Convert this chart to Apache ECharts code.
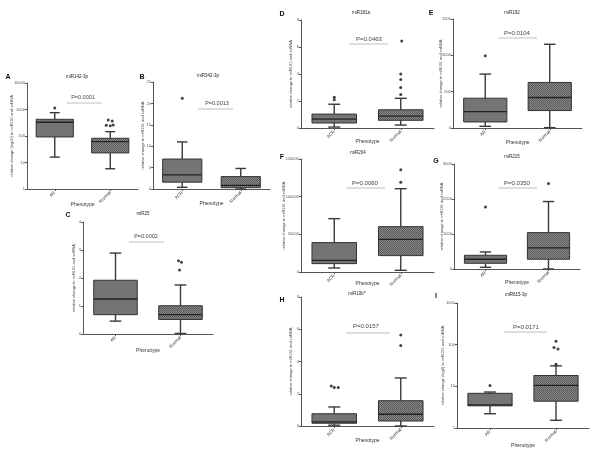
<!DOCTYPE html>
<html>
<head>
<meta charset="utf-8">
<script src="https://cdn.jsdelivr.net/npm/echarts@6/dist/echarts.min.js"></script>
<style>
  html, body { margin: 0; padding: 0; background: #fff; }
  #chart { width: 601px; height: 458px; }
</style>
</head>
<body>
<div id="chart"></div>
<script>
// ---- data ----
const catsAR = ['AR', 'Normal'];
const catsACR = ['ACR', 'Normal'];

// box rows: [category, min, q1, median, q3, max]
const boxA = [[0, 16, 92, 330, 427, 760], [1, 5.8, 23, 61, 82, 146]];
const outA = [[0, 1140], [1, 400], [1, 370], [1, 252], [1, 245], [1, 262]];
const boxB = [[0, 0.4, 1.6, 3.3, 7.0, 11], [1, 0, 0.3, 0.86, 2.9, 4.8]];
const outB = [[0, 21.2]];
const boxC = [[0, 0.46, 0.69, 1.25, 1.92, 2.89], [1, 0.02, 0.52, 0.69, 1.01, 1.75]];
const outC = [[1, 2.62], [1, 2.56], [1, 2.29]];
const boxD = [[0, 0.07, 0.37, 0.66, 1.03, 1.76], [1, 0.22, 0.57, 0.88, 1.35, 2.2]];
const outD = [[0, 2.28], [0, 2.09], [1, 2.48], [1, 3.0], [1, 3.6], [1, 4.0], [1, 6.45]];
const boxE = [[0, 23, 83, 226, 410, 742], [1, 5, 240, 420, 627, 1152]];
const outE = [[0, 995]];
const boxF = [[0, 5300, 11100, 15500, 39000, 70800], [1, 2250, 21750, 43400, 60200, 110600]];
const outF = [[1, 119000], [1, 135800]];
const boxG = [[0, 49, 163, 278, 392, 487], [1, 0, 278, 602, 1040, 1928]];
const outG = [[0, 1768], [1, 2444]];
const boxH = [[0, 0.05, 0.17, 0.25, 0.76, 1.18], [1, 0, 0.31, 0.73, 1.57, 2.98]];
const outH = [[0, 2.48], [0, 2.38], [0, 2.38], [1, 5.65], [1, 4.99]];
const boxI = [[0, 2.2, 3.4, 3.6, 6.8, 7.3], [1, 1.53, 4.4, 10.5, 18.2, 31]];
const outI = [[0, 10.5], [1, 120], [1, 85], [1, 79], [1, 34]];

const pValues = ['P=0.0001', 'P=0.0013', 'P=0.0002', 'P=0.0463', 'P=0.0104',
                 'P=0.0060', 'P=0.0350', 'P=0.0157', 'P=0.0171'];
const titles = ['miR142-3p', 'miR342-3p', 'miR25', 'miR181a', 'miR192',
                'miR204', 'miR215', 'miR10b*', 'miR615-3p'];
const letters = ['A', 'B', 'C', 'D', 'E', 'F', 'G', 'H', 'I'];
const yNamePlain = 'relative change to miR191 and snRNA';

// ---- layout (pixels) ----
// grid [left, top, width, height], letter [x,y], title [x,y], p text [x,y], p line [x1,x2,y]
const panels = [
  { cats: catsAR,  box: boxA, out: outA, jit: [0, -2, 2, -4, 0, 3], y: { type: 'log', min: 1, max: 10000 },
    yName: 'relative change (log10) to miR191 and snRNA', grid: [27, 83, 111, 106], letter: [8, 77], title: [77, 77],
    p: [83, 97], pl: [67, 102, 103], yGap: 13, xGap: 13 },
  { cats: catsACR, box: boxB, out: outB, jit: [0], y: { min: 0, max: 25, interval: 5 },
    yName: yNamePlain, grid: [153, 82, 117, 107], letter: [142, 77], title: [208, 76],
    p: [217, 103], pl: [198, 233, 109], yGap: 8, xGap: 12 },
  { cats: catsAR,  box: boxC, out: outC, jit: [-2, 1, -1], y: { min: 0, max: 4, interval: 1 },
    yName: yNamePlain, grid: [83, 222, 130, 112], letter: [68, 215], title: [143, 214],
    p: [146, 236], pl: [129, 164, 242], yGap: 7, xGap: 14 },
  { cats: catsACR, box: boxD, out: outD, jit: [0, 0, 0, 0, 0, 0, 1], y: { min: 0, max: 8, interval: 2 },
    yName: yNamePlain, grid: [301, 20, 133, 108], letter: [282, 14], title: [361, 13],
    p: [369, 39], pl: [349, 388, 44], yGap: 8, xGap: 11 },
  { cats: catsAR,  box: boxE, out: outE, jit: [0], y: { min: 0, max: 1500, interval: 500 },
    yName: yNamePlain, grid: [453, 19, 129, 109], letter: [431, 13], title: [512, 13],
    p: [517, 33], pl: [498, 537, 38], yGap: 10, xGap: 12 },
  { cats: catsACR, box: boxF, out: outF, jit: [0, 0], y: { min: 0, max: 150000, interval: 50000 },
    yName: yNamePlain, grid: [301, 159, 133, 113], letter: [282, 157], title: [358, 153],
    p: [365, 183], pl: [346, 385, 188], yGap: 15, xGap: 9 },
  { cats: catsAR,  box: boxG, out: outG, jit: [0, 0], y: { min: 0, max: 3000, interval: 1000 },
    yName: yNamePlain, grid: [454, 164, 126, 105], letter: [436, 161], title: [512, 157],
    p: [517, 183], pl: [498, 537, 188], yGap: 10, xGap: 11 },
  { cats: catsACR, box: boxH, out: outH, jit: [-3, 0, 4, 0, 0], y: { min: 0, max: 8, interval: 2 },
    yName: yNamePlain, grid: [301, 297, 133, 129], letter: [282, 300], title: [357, 294],
    p: [366, 326], pl: [346, 390, 333], yGap: 8, xGap: 12 },
  { cats: catsAR,  box: boxI, out: outI, jit: [0, 0, -2, 2, 0], y: { type: 'log', min: 1, max: 1000 },
    yName: 'relative change (log2) to miR191 and snRNA', grid: [457, 303, 132, 125], letter: [436, 296], title: [516, 295],
    p: [526, 327], pl: [504, 547, 332], yGap: 12, xGap: 15 }
];

const FONT = 'Liberation Sans, Arial, sans-serif';
const AXIS = '#555';

// dotted fill for the Normal boxes
const tile = document.createElement('canvas');
tile.width = 2; tile.height = 2;
const tc = tile.getContext('2d');
tc.fillStyle = '#8a8a8a'; tc.fillRect(0, 0, 2, 2);
tc.fillStyle = '#585858'; tc.fillRect(0, 0, 1, 1); tc.fillRect(1, 1, 1, 1);
const hatch = { image: tile, repeat: 'repeat' };

function renderBox(params, api) {
  const c = api.value(0);
  const p = [1, 2, 3, 4, 5].map(function (i) { return api.coord([c, api.value(i)]); });
  const band = api.size([1, 0])[0];
  const half = band * 0.335, cap = band * 0.09;
  const x = p[0][0];
  const wl = { stroke: '#3a3a3a', lineWidth: 1.4 };
  return {
    type: 'group',
    children: [
      { type: 'line', shape: { x1: x, y1: p[0][1], x2: x, y2: p[1][1] }, style: wl },
      { type: 'line', shape: { x1: x, y1: p[3][1], x2: x, y2: p[4][1] }, style: wl },
      { type: 'line', shape: { x1: x - cap, y1: p[0][1], x2: x + cap, y2: p[0][1] }, style: wl },
      { type: 'line', shape: { x1: x - cap, y1: p[4][1], x2: x + cap, y2: p[4][1] }, style: wl },
      { type: 'rect', shape: { x: x - half, y: p[3][1], width: half * 2, height: p[1][1] - p[3][1] },
        style: { fill: c === 1 ? hatch : '#747474', stroke: '#333', lineWidth: 1 } },
      { type: 'line', shape: { x1: x - half, y1: p[2][1], x2: x + half, y2: p[2][1] },
        style: { stroke: '#222', lineWidth: 1.3 } }
    ]
  };
}

const grids = [], xAxes = [], yAxes = [], series = [], graphics = [];

panels.forEach(function (pn, i) {
  grids.push({ left: pn.grid[0], top: pn.grid[1], width: pn.grid[2], height: pn.grid[3] });
  xAxes.push({
    gridIndex: i, type: 'category', data: pn.cats,
    name: 'Phenotype', nameLocation: 'middle', nameGap: pn.xGap, nameMoveOverlap: false,
    nameTextStyle: { fontSize: 5, color: '#333', fontFamily: FONT },
    axisLine: { lineStyle: { color: AXIS, width: 1 } },
    axisTick: { show: true, alignWithLabel: true, length: 2, lineStyle: { color: AXIS } },
    axisLabel: { rotate: 45, fontSize: 4.5, color: '#333', margin: 3, fontFamily: FONT },
    splitLine: { show: false }
  });
  const y = {
    gridIndex: i, type: pn.y.type || 'value', min: pn.y.min, max: pn.y.max,
    name: pn.yName, nameLocation: 'middle', nameGap: pn.yGap, nameMoveOverlap: false,
    nameTextStyle: { fontSize: 4, color: '#444', fontFamily: FONT },
    axisLine: { show: true, lineStyle: { color: AXIS, width: 1 } },
    axisTick: { show: true, length: 2, lineStyle: { color: AXIS } },
    axisLabel: { fontSize: 4, color: '#555', margin: 2, fontFamily: FONT,
                 formatter: function (v) { return String(v); } },
    splitLine: { show: false }
  };
  if (pn.y.interval) y.interval = pn.y.interval;
  if (y.type === 'log') y.logBase = 10;
  yAxes.push(y);

  series.push({
    type: 'custom', xAxisIndex: i, yAxisIndex: i,
    renderItem: renderBox, encode: { x: 0, y: [1, 2, 3, 4, 5] },
    data: pn.box, silent: true
  });
  series.push({
    type: 'scatter', xAxisIndex: i, yAxisIndex: i, symbolSize: 3,
    itemStyle: { color: '#111' }, silent: true,
    data: pn.out.map(function (d, k) {
      return { value: d, symbolOffset: [pn.jit[k] || 0, 0] };
    })
  });

  graphics.push({ type: 'text', x: pn.letter[0], y: pn.letter[1],
    style: { text: letters[i], fontSize: 7, fontWeight: 'bold', fill: '#111', fontFamily: FONT,
             align: 'center', verticalAlign: 'middle' } });
  graphics.push({ type: 'text', x: pn.title[0], y: pn.title[1],
    style: { text: titles[i], fontSize: 4.5, fill: '#222', fontFamily: FONT,
             align: 'center', verticalAlign: 'middle' } });
  graphics.push({ type: 'text', x: pn.p[0], y: pn.p[1],
    style: { text: pValues[i], fontSize: i < 3 ? 5.5 : 6, fill: '#444', fontFamily: FONT,
             align: 'center', verticalAlign: 'middle' } });
  graphics.push({ type: 'line', shape: { x1: pn.pl[0], y1: pn.pl[2], x2: pn.pl[1], y2: pn.pl[2] },
    style: { stroke: '#a9c4d6', lineWidth: 1 } });
});

const chart = echarts.init(document.getElementById('chart'), null, { renderer: 'canvas' });
chart.setOption({
  backgroundColor: '#fff',
  animation: false,
  grid: grids,
  xAxis: xAxes,
  yAxis: yAxes,
  series: series,
  graphic: graphics
});
</script>
</body>
</html>
